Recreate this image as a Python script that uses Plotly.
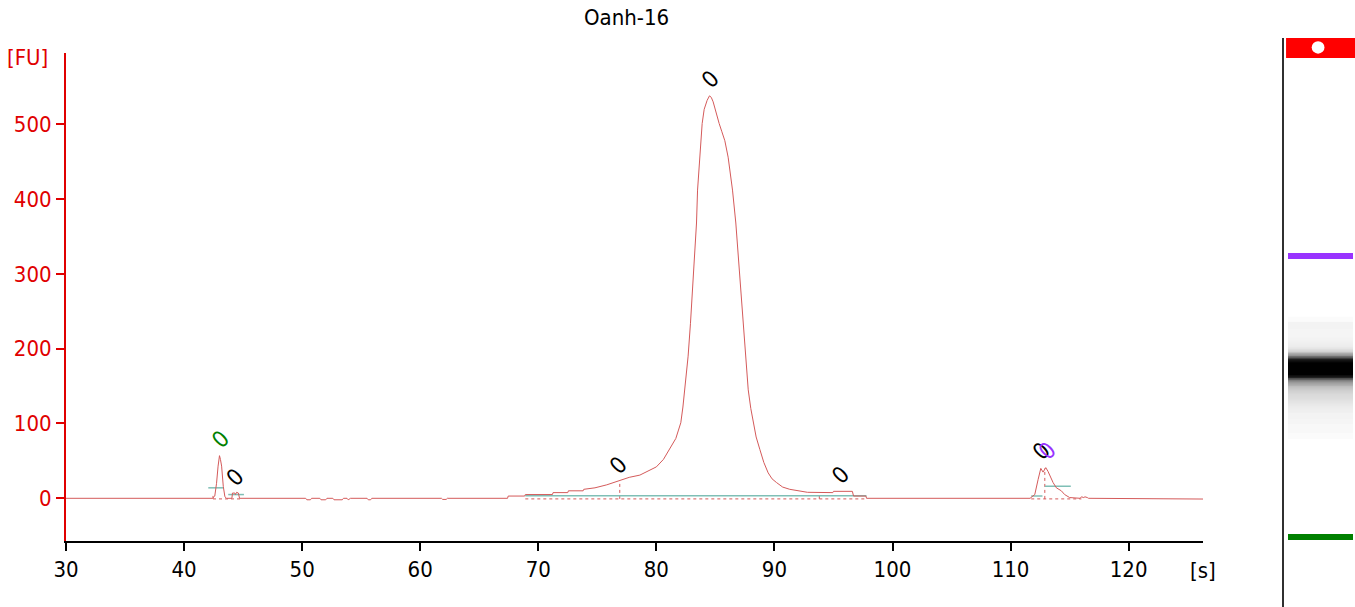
import plotly.graph_objects as go

# ---------------- data ----------------
time_s = [30.0, 42.4, 42.6, 42.75, 42.88, 43.0, 43.08, 43.18, 43.32, 43.46, 43.6,
          44.05, 44.1, 44.3, 44.35, 44.45, 44.6, 44.7,
          50.3, 50.4, 50.7, 50.8, 51.5, 51.6, 52.0, 52.1, 52.6, 52.7, 53.4, 53.5,
          53.8, 53.9, 54.1, 55.5, 55.6, 55.8, 55.9, 61.8, 61.9, 62.2, 62.3,
          67.4, 67.45, 68.85, 68.9, 71.2, 71.25, 72.5, 72.55, 73.8, 73.85, 74.8,
          75.8, 76.6, 76.9, 77.7, 78.6, 79.4, 80.0, 80.6, 81.0, 81.4, 81.65, 81.85,
          82.07, 82.25, 82.41, 82.55, 82.69, 82.89, 83.06, 83.26, 83.40, 83.49,
          83.68, 83.88, 84.05, 84.3, 84.5, 84.65, 84.81, 85.05, 85.32, 85.55, 85.8,
          86.08, 86.45, 86.73, 86.93, 87.13, 87.35, 87.58, 87.78, 88.0, 88.2, 88.45,
          88.77, 89.1, 89.47, 89.8, 90.18, 90.7, 91.3, 92.15, 92.8, 94.95, 95.0,
          96.6, 96.7, 97.75, 97.8,
          111.65, 112.05, 112.33, 112.56, 112.75, 112.98, 113.17, 113.37, 113.6,
          113.88, 114.3, 114.58, 115.0, 115.9, 116.0, 116.2, 116.3, 116.5, 116.6, 126.3]
fu = [0, 0, 3, 20, 43, 57, 52, 43, 16, 2, 0,
      0, 7, 7, 5, 8, 7, 0,
      0, -2, -2, 0, 0, -2, -2, 0, 0, -2, -2, 0,
      0, -2, 0, 0, -2, -2, 0, 0, -1.5, -1.5, 0,
      0, 3, 3, 5, 5, 7.6, 7.6, 10, 10, 12, 14,
      18, 22, 23, 28, 31, 37, 42, 52, 62, 73, 80, 90,
      101, 122, 145, 168, 190, 234, 279, 323, 368, 412,
      456, 501, 520, 532, 538, 536, 530, 515, 501, 490, 478,
      456, 412, 368, 323, 279, 234, 190, 145, 120, 101, 82,
      65, 48, 34, 26, 21, 15, 12, 10, 8, 7.6, 9.3,
      9.3, 3, 3, 0,
      0, 5, 25, 40, 35, 41, 36, 28, 21,
      14, 10, 5, 1, 0, 2, 1, 2, 1, 0, -1]

# peak labels
label_x = [43.1, 44.3, 76.8, 84.6, 95.6, 112.6, 113.1]
label_y = [79, 29, 44, 560, 31, 63, 63]
label_text = ["0", "0", "0", "0", "0", "0", "0"]
label_color = ["#008000", "#000000", "#000000", "#000000", "#000000", "#000000", "#9933ff"]

# peak integration baselines
base_x = [42.05, 43.32, None, 43.74, 45.07, None, 68.9, 97.8, None,
          111.75, 112.7, None, 112.9, 115.1]
base_y = [14, 14, None, 5, 5, None, 3.5, 3.5, None, 3, 3, None, 16, 16]
dot_x = [42.45, 44.8, None, 42.45, 42.45, None, 68.9, 97.8, None, 76.9, 76.9, None,
         93.8, 93.8, None, 111.75, 116.0, None, 112.9, 112.9]
dot_y = [-0.8, -0.8, None, -0.8, 5, None, -0.8, -0.8, None, -0.8, 23, None,
         -0.8, 7.6, None, -0.8, -0.8, None, -0.8, 40]

# gel lane markers (lower / upper marker)
marker_times = [43.0, 113.0]
marker_colors = ["#008000", "#9933ff"]
gel_window = (45.0, 111.0)

x_ticks = [30, 40, 50, 60, 70, 80, 90, 100, 110, 120]
y_ticks = [0, 100, 200, 300, 400, 500]

RED = "#e00000"
TRACE = "#d45a5a"
FONT = "DejaVu Sans Condensed, DejaVu Sans, Liberation Sans, sans-serif"

fig = go.Figure()

# electropherogram
fig.add_trace(go.Scatter(x=dot_x, y=dot_y, mode="lines",
                         line=dict(color=TRACE, width=1, dash="dot"),
                         hoverinfo="skip", showlegend=False))
fig.add_trace(go.Scatter(x=base_x, y=base_y, mode="lines",
                         line=dict(color="#7fbfb6", width=1.5),
                         hoverinfo="skip", showlegend=False))
fig.add_trace(go.Scatter(x=time_s, y=fu, mode="lines",
                         line=dict(color=TRACE, width=1),
                         showlegend=False))

# gel lane (pseudo-gel of the same trace)
gel_t = [t for t in time_s if gel_window[0] <= t <= gel_window[1]]
gel_z = [[v, v] for t, v in zip(time_s, fu) if gel_window[0] <= t <= gel_window[1]]
fig.add_trace(go.Heatmap(x=[0, 1], y=gel_t, z=gel_z, xaxis="x2", yaxis="y2",
                         zmin=0, zmax=400, zsmooth="best", showscale=False,
                         hoverinfo="skip",
                         colorscale=[[0, "#ffffff"], [0.0125, "#f8f8f8"],
                                     [0.04, "#ececec"], [0.1, "#cdcdcd"],
                                     [0.25, "#7f7f7f"], [0.6, "#1a1a1a"],
                                     [1, "#000000"]]))

shapes = []
for t, c in zip(marker_times, marker_colors):
    shapes.append(dict(type="rect", xref="x2", yref="y2", x0=-0.5, x1=1.5,
                       y0=t - 0.75, y1=t + 0.75, fillcolor=c, line_width=0))
shapes.append(dict(type="rect", xref="x2", yref="y2 domain", x0=-0.56, x1=1.6,
                   y0=0.9649, y1=1.0, fillcolor="#ff0000", line_width=0))
shapes.append(dict(type="circle", xref="x2 domain", yref="y2 domain",
                   x0=0.39, x1=0.57, y0=0.9725, y1=0.9945,
                   fillcolor="#ffffff", line_width=0))

annotations = []
for lx, ly, lt, lc in zip(label_x, label_y, label_text, label_color):
    annotations.append(dict(x=lx, y=ly, xref="x", yref="y", text=lt, showarrow=False,
                            xanchor="center", yanchor="middle",
                            textangle=-45, font=dict(size=23, color=lc, family=FONT)))
annotations.append(dict(x=-0.0295, y=0.9666, xref="paper", yref="paper", text="[FU]",
                        xanchor="center", yanchor="middle",
                        showarrow=False, font=dict(size=22, color=RED, family=FONT)))
annotations.append(dict(x=0.8821, y=0.0633, xref="paper", yref="paper", text="[s]",
                        xanchor="center", yanchor="middle",
                        showarrow=False, font=dict(size=22, color="#000000", family=FONT)))

fig.update_layout(
    width=1355, height=607,
    margin=dict(l=66, r=0, t=38, b=0),
    paper_bgcolor="white", plot_bgcolor="white",
    font=dict(family=FONT, size=22, color="#000000"),
    title=dict(text="Oanh-16", x=0.4624, xref="container", y=0.972,
               yref="container", xanchor="center", yanchor="middle",
               font=dict(size=22, color="#000000", family=FONT)),
    xaxis=dict(domain=[0, 0.8821], range=[30, 126.3], tickvals=x_ticks,
               showgrid=False, zeroline=False, showline=True, linecolor="#000000",
               linewidth=2, ticks="outside", ticklen=8, tickwidth=2,
               tickcolor="#000000", tickfont=dict(size=22, color="#000000"),
               anchor="y", automargin=False),
    yaxis=dict(domain=[0.1165, 0.9742], range=[-56.7, 595.7], tickvals=y_ticks,
               showgrid=False, zeroline=False, showline=True, linecolor=RED,
               linewidth=2, ticks="outside", ticklen=8, tickwidth=2,
               tickcolor=RED, tickfont=dict(size=22, color=RED), anchor="x",
               automargin=False),
    xaxis2=dict(domain=[0.94492, 1.0], range=[-0.623, 1.5615], showgrid=False,
                zeroline=False, showticklabels=False, ticks="", showline=False,
                anchor="y2"),
    yaxis2=dict(domain=[0, 1], range=[25.56, 167.3], showgrid=False, zeroline=False,
                showticklabels=False, ticks="", showline=True, linecolor="#303030",
                linewidth=2, anchor="x2", side="left"),
    shapes=shapes,
    annotations=annotations,
)

fig.write_html("out.html", config={"displayModeBar": False},
               post_script="document.body.style.margin='0';document.body.style.overflow='hidden';")
